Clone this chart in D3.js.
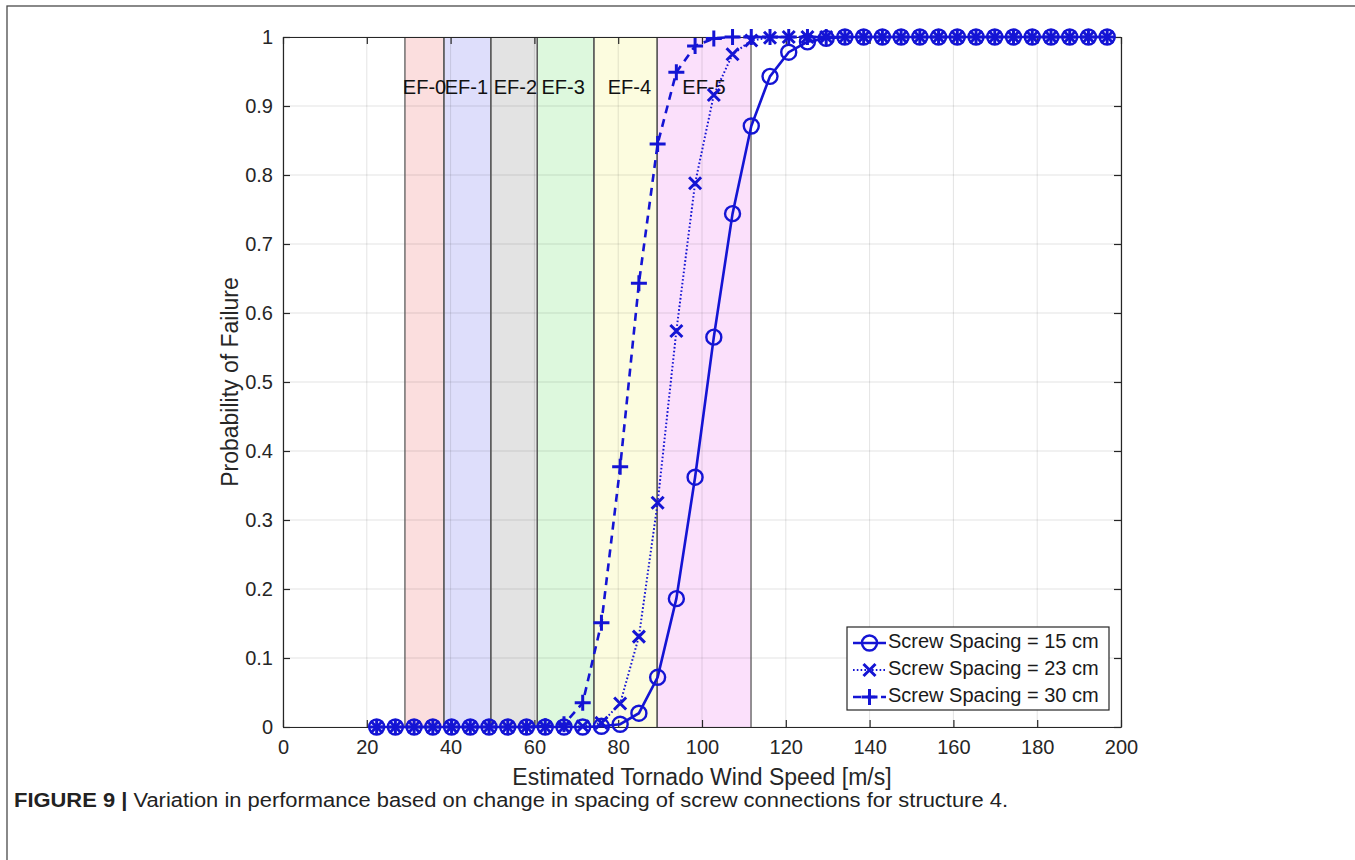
<!DOCTYPE html>
<html>
<head>
<meta charset="utf-8">
<script src="https://cdn.jsdelivr.net/npm/d3@7"></script>
<style>
  html, body { margin: 0; padding: 0; background: #fff; }
  svg { display: block; }
  text { font-family: Arial, "Liberation Sans", Helvetica, sans-serif; }
</style>
</head>
<body>
<svg id="chart" width="1355" height="860"></svg>
<script>
// ---------------- DATA ----------------
// wind speeds: 50 mph .. 440 mph step 10 mph, in m/s
const windSpeed = [22.35, 26.82, 31.29, 35.76, 40.23, 44.70, 49.17, 53.64, 58.12, 62.59,
  67.06, 71.53, 76.00, 80.47, 84.94, 89.41, 93.88, 98.35, 102.82, 107.29,
  111.76, 116.23, 120.70, 125.17, 129.64, 134.11, 138.58, 143.05, 147.52, 151.99,
  156.46, 160.93, 165.40, 169.87, 174.34, 178.82, 183.29, 187.76, 192.23, 196.70];

const pf15 = [0, 0, 0, 0, 0, 0, 0, 0, 0, 0,
  0, 0, 0.001, 0.004, 0.020, 0.072, 0.186, 0.362, 0.565, 0.744,
  0.871, 0.943, 0.978, 0.993, 0.998, 1, 1, 1, 1, 1,
  1, 1, 1, 1, 1, 1, 1, 1, 1, 1];

const pf23 = [0, 0, 0, 0, 0, 0, 0, 0, 0, 0,
  0, 0.001, 0.006, 0.034, 0.131, 0.325, 0.574, 0.788, 0.916, 0.975,
  0.995, 0.999, 1, 1, 1, 1, 1, 1, 1, 1,
  1, 1, 1, 1, 1, 1, 1, 1, 1, 1];

const pf30 = [0, 0, 0, 0, 0, 0, 0, 0, 0, 0.001,
  0.004, 0.035, 0.151, 0.377, 0.643, 0.845, 0.949, 0.987, 0.998, 1,
  1, 1, 1, 1, 1, 1, 1, 1, 1, 1,
  1, 1, 1, 1, 1, 1, 1, 1, 1, 1];

const seriesNames = ["Screw Spacing = 15 cm", "Screw Spacing = 23 cm", "Screw Spacing = 30 cm"];

// EF scale bands (m/s)
const efNames = ["EF-0", "EF-1", "EF-2", "EF-3", "EF-4", "EF-5"];
const efStart = [29.1, 38.4, 49.6, 60.7, 74.2, 89.3];
const efEnd   = [38.4, 49.6, 60.7, 74.2, 89.3, 111.7];
const efLabelX = [28.6, 38.6, 50.3, 61.7, 77.5, 95.3];
const efLabelY = 0.925;
const efColors = ["#fbdede", "#dedefb", "#e3e3e3", "#ddf8dd", "#fcfcdf", "#fbe0fb"];

const xTicks = [0, 20, 40, 60, 80, 100, 120, 140, 160, 180, 200];
const yTicks = [0, 0.1, 0.2, 0.3, 0.4, 0.5, 0.6, 0.7, 0.8, 0.9, 1];

const xLabel = "Estimated Tornado Wind Speed [m/s]";
const yLabel = "Probability of Failure";
const captionBold = "FIGURE 9 |";
const captionText = " Variation in performance based on change in spacing of screw connections for structure 4.";

// ---------------- DRAW ----------------
const svg = d3.select("#chart");
const L = 283, R = 1121, T = 37, B = 727;
const axisColor = "#262626";
const blue = "#1414d4";

// figure frame
svg.append("rect").attr("x", 7).attr("y", 6).attr("width", 1360).attr("height", 900)
  .attr("fill", "none").attr("stroke", "#4a4a4a").attr("stroke-width", 1.3);

const x = d3.scaleLinear().domain([0, 200]).range([L, R]);
const y = d3.scaleLinear().domain([0, 1]).range([B, T]);

// bands
const bands = svg.append("g");
efNames.forEach((n, i) => {
  bands.append("rect")
    .attr("x", x(efStart[i])).attr("y", y(1))
    .attr("width", x(efEnd[i]) - x(efStart[i])).attr("height", y(0) - y(1))
    .attr("fill", efColors[i]);
});

// grid
const grid = svg.append("g").attr("stroke", "rgba(0,0,0,0.11)").attr("stroke-width", 1);
xTicks.forEach(t => grid.append("line").attr("x1", x(t)).attr("x2", x(t)).attr("y1", y(0)).attr("y2", y(1)));
yTicks.forEach(t => grid.append("line").attr("x1", x(0)).attr("x2", x(200)).attr("y1", y(t)).attr("y2", y(t)));

// band edges
const edges = svg.append("g").attr("stroke", "#5a5a5a").attr("stroke-width", 1.3);
efNames.forEach((n, i) => {
  [efStart[i], efEnd[i]].forEach(v => edges.append("line")
    .attr("x1", x(v)).attr("x2", x(v)).attr("y1", y(0)).attr("y2", y(1)));
});

// EF labels
efNames.forEach((n, i) => {
  svg.append("text").attr("x", x(efLabelX[i])).attr("y", y(efLabelY))
    .attr("dominant-baseline", "middle").attr("font-size", 20).attr("fill", "#111").text(n);
});

// axes (box with inner ticks)
const axG = svg.append("g");
const xAxisB = d3.axisBottom(x).tickValues(xTicks).tickSizeInner(-7).tickSizeOuter(0).tickPadding(13).tickFormat(d3.format("d"));
const xAxisT = d3.axisTop(x).tickValues(xTicks).tickSizeInner(-7).tickSizeOuter(0).tickFormat("");
const yAxisL = d3.axisLeft(y).tickValues(yTicks).tickSizeInner(-7).tickSizeOuter(0).tickPadding(10).tickFormat(d => d === 0 ? "0" : d === 1 ? "1" : d3.format(".1f")(d));
const yAxisR = d3.axisRight(y).tickValues(yTicks).tickSizeInner(-7).tickSizeOuter(0).tickFormat("");

function styleAxis(g) {
  g.select(".domain").attr("stroke", axisColor).attr("stroke-width", 1.2);
  g.selectAll(".tick line").attr("stroke", axisColor).attr("stroke-width", 1.2);
  g.selectAll(".tick text").attr("fill", axisColor).attr("font-size", 20)
    .attr("font-family", "Arial, 'Liberation Sans', Helvetica, sans-serif");
}
axG.append("g").attr("transform", `translate(0,${B})`).call(xAxisB).call(styleAxis);
axG.append("g").attr("transform", `translate(0,${T})`).call(xAxisT).call(styleAxis);
axG.append("g").attr("transform", `translate(${L},0)`).call(yAxisL).call(styleAxis);
axG.append("g").attr("transform", `translate(${R},0)`).call(yAxisR).call(styleAxis);

// series
const series = [
  { name: seriesNames[0], vals: pf15, dash: null, width: 2.6, marker: "o" },
  { name: seriesNames[1], vals: pf23, dash: "1.6,2.2", width: 2.0, marker: "x" },
  { name: seriesNames[2], vals: pf30, dash: "8,6", width: 2.6, marker: "+" }
];

const line = d3.line().x(d => x(d[0])).y(d => y(d[1]));

function drawMarker(g, type, cx, cy) {
  if (type === "o") {
    g.append("circle").attr("cx", cx).attr("cy", cy).attr("r", 7.5)
      .attr("fill", "none").attr("stroke", blue).attr("stroke-width", 2.4);
  } else if (type === "x") {
    const s = 6;
    g.append("path").attr("d", `M${cx - s},${cy - s}L${cx + s},${cy + s}M${cx - s},${cy + s}L${cx + s},${cy - s}`)
      .attr("stroke", blue).attr("stroke-width", 3).attr("fill", "none");
  } else {
    const s = 8;
    g.append("path").attr("d", `M${cx - s},${cy}L${cx + s},${cy}M${cx},${cy - s}L${cx},${cy + s}`)
      .attr("stroke", blue).attr("stroke-width", 3).attr("fill", "none");
  }
}

const plotG = svg.append("g");
series.forEach(s => {
  const pts = windSpeed.map((w, i) => [w, s.vals[i]]);
  plotG.append("path").datum(pts).attr("d", line)
    .attr("fill", "none").attr("stroke", blue).attr("stroke-width", s.width)
    .attr("stroke-dasharray", s.dash);
  const mg = plotG.append("g");
  pts.forEach(p => drawMarker(mg, s.marker, x(p[0]), y(p[1])));
});

// legend
const lg = svg.append("g").attr("transform", "translate(847,627)");
lg.append("rect").attr("width", 262).attr("height", 83).attr("fill", "#fff")
  .attr("stroke", axisColor).attr("stroke-width", 1.2);
series.forEach((s, i) => {
  const cy = 16 + i * 27;
  lg.append("line").attr("x1", 6).attr("x2", 39).attr("y1", cy).attr("y2", cy)
    .attr("stroke", blue).attr("stroke-width", s.width).attr("stroke-dasharray", s.dash);
  drawMarker(lg, s.marker, 22.5, cy);
  lg.append("text").attr("x", 41).attr("y", cy).attr("dominant-baseline", "middle")
    .attr("font-size", 20).attr("fill", "#1a1a1a").text(s.name);
});

// axis labels
svg.append("text").attr("x", (L + R) / 2).attr("y", 779).attr("text-anchor", "middle")
  .attr("dominant-baseline", "middle").attr("font-size", 23).attr("fill", axisColor).text(xLabel);
svg.append("text").attr("transform", `translate(232,${(T + B) / 2}) rotate(-90)`)
  .attr("text-anchor", "middle").attr("dominant-baseline", "middle")
  .attr("font-size", 23).attr("fill", axisColor).text(yLabel);

// caption
const cap = svg.append("text").attr("x", 14).attr("y", 807).attr("font-size", 20).attr("fill", "#222")
  .attr("textLength", 994).attr("lengthAdjust", "spacingAndGlyphs");
cap.append("tspan").attr("font-weight", "bold").text(captionBold);
cap.append("tspan").text(captionText);
</script>
</body>
</html>
